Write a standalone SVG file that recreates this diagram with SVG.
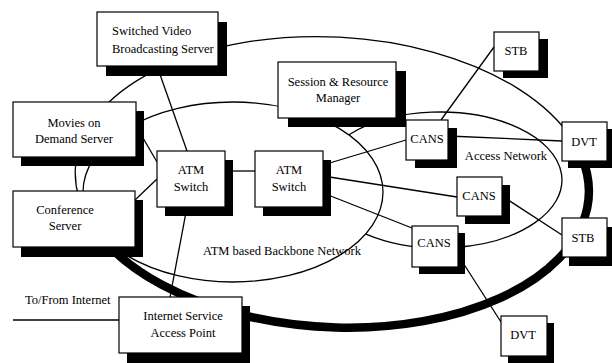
<svg xmlns="http://www.w3.org/2000/svg" width="612" height="363" viewBox="0 0 612 363">
<style>
.bg{fill:#fff}
.ln{fill:none;stroke:#000;stroke-width:1.3}
.thick{fill:none;stroke:#000;stroke-width:8.5}
.sh{fill:#000}
.bx{fill:#fff;stroke:#000;stroke-width:1.2}
text{font-family:'Liberation Serif','DejaVu Serif',serif;font-size:12.5px;fill:#000}
.c{text-anchor:middle}
</style>
<rect class="bg" x="0" y="0" width="612" height="363"/>
<g font-family="Liberation Serif, DejaVu Serif, serif" font-size="12.5">
<g id="networks">
<ellipse class="ln" cx="332" cy="182" rx="257" ry="145" transform="rotate(3 332 182)"/>
<path class="thick" d="M105.9 242.8 A257 145 3 0 0 581.9 157.5"/>
<ellipse class="ln" cx="233" cy="192" rx="150" ry="90"/>
<path class="ln" d="M349 134.7 A122 68 0 1 1 366 234.1"/>
<text x="282" y="255" class="c">ATM based Backbone Network</text>
<text x="506" y="160" class="c">Access Network</text>
</g>
<g id="connectors">
<line class="ln" x1="157" y1="66" x2="187" y2="151"/>
<line class="ln" x1="136" y1="126" x2="157" y2="162"/>
<line class="ln" x1="135" y1="200" x2="157" y2="179"/>
<line class="ln" x1="225" y1="171" x2="255" y2="171"/>
<line class="ln" x1="187" y1="207" x2="170" y2="297"/>
<line class="ln" x1="323" y1="165" x2="406" y2="140"/>
<line class="ln" x1="323" y1="176" x2="457" y2="197"/>
<line class="ln" x1="323" y1="193" x2="412" y2="228"/>
<line class="ln" x1="441" y1="120" x2="494" y2="47"/>
<line class="ln" x1="448" y1="136" x2="562" y2="141"/>
<line class="ln" x1="502" y1="196" x2="562" y2="235"/>
<line class="ln" x1="458" y1="255" x2="501" y2="322"/>
<line class="ln" x1="13" y1="320" x2="119" y2="320"/>
<text x="25" y="304">To/From Internet</text>
</g>
<g id="svbs">
<rect class="sh" x="106" y="22" width="121" height="54"/>
<rect class="bx" x="97" y="12" width="121" height="54"/>
<text x="112" y="35">Switched Video</text>
<text x="112" y="53">Broadcasting Server</text>
</g>
<g id="session">
<rect class="sh" x="288" y="71" width="118" height="56"/>
<rect class="bx" x="278" y="62" width="118" height="56"/>
<text x="338" y="86" class="c">Session &amp; Resource</text>
<text x="338" y="102" class="c">Manager</text>
</g>
<g id="movies">
<rect class="sh" x="21" y="111" width="123" height="55"/>
<rect class="bx" x="13" y="102" width="123" height="55"/>
<text x="74" y="127" class="c">Movies on</text>
<text x="74" y="143" class="c">Demand Server</text>
</g>
<g id="conference">
<rect class="sh" x="21" y="200" width="122" height="57"/>
<rect class="bx" x="13" y="191" width="122" height="56"/>
<text x="65" y="214" class="c">Conference</text>
<text x="65" y="230" class="c">Server</text>
</g>
<g id="atm1">
<rect class="sh" x="165" y="160" width="68" height="56"/>
<rect class="bx" x="157" y="151" width="68" height="56"/>
<text x="191" y="174" class="c">ATM</text>
<text x="191" y="191" class="c">Switch</text>
</g>
<g id="atm2">
<rect class="sh" x="263" y="160" width="68" height="56"/>
<rect class="bx" x="255" y="151" width="68" height="56"/>
<text x="289" y="174" class="c">ATM</text>
<text x="289" y="191" class="c">Switch</text>
</g>
<g id="cans1">
<rect class="sh" x="415" y="128" width="42" height="40"/>
<rect class="bx" x="406" y="120" width="42" height="40"/>
<text x="427" y="143" class="c">CANS</text>
</g>
<g id="stb1">
<rect class="sh" x="503" y="39" width="45" height="39"/>
<rect class="bx" x="494" y="32" width="45" height="39"/>
<text x="516" y="55" class="c">STB</text>
</g>
<g id="dvt1">
<rect class="sh" x="568" y="129" width="45" height="39"/>
<rect class="bx" x="562" y="122" width="45" height="39"/>
<text x="584" y="146" class="c">DVT</text>
</g>
<g id="cans2">
<rect class="sh" x="465" y="185" width="45" height="39"/>
<rect class="bx" x="457" y="177" width="45" height="39"/>
<text x="479" y="200" class="c">CANS</text>
</g>
<g id="cans3">
<rect class="sh" x="419" y="233" width="46" height="41"/>
<rect class="bx" x="412" y="226" width="46" height="41"/>
<text x="434" y="247" class="c">CANS</text>
</g>
<g id="stb2">
<rect class="sh" x="569" y="227" width="45" height="39"/>
<rect class="bx" x="562" y="218" width="45" height="39"/>
<text x="583" y="242" class="c">STB</text>
</g>
<g id="dvt2">
<rect class="sh" x="508" y="323" width="46" height="40"/>
<rect class="bx" x="501" y="316" width="46" height="40"/>
<text x="523" y="339" class="c">DVT</text>
</g>
<g id="isap">
<rect class="sh" x="127" y="306" width="123" height="57"/>
<rect class="bx" x="119" y="297" width="123" height="56"/>
<text x="183" y="320" class="c">Internet Service</text>
<text x="183" y="337" class="c">Access Point</text>
</g>
</g>
</svg>
